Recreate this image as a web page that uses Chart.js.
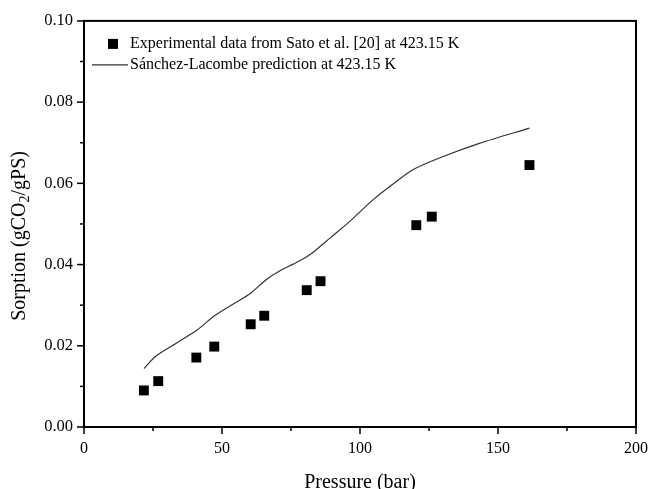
<!DOCTYPE html>
<html>
<head>
<meta charset="utf-8">
<script src="https://cdn.jsdelivr.net/npm/chart.js@4/dist/chart.umd.min.js"></script>
<style>
  html, body { margin: 0; padding: 0; background: #fff; }
  #wrap { width: 648px; height: 489px; }
</style>
</head>
<body>
<div id="wrap"><canvas id="chart" width="648" height="489"></canvas></div>
<script>
// experimental points (Sato et al.)
const expPressure = [21.7, 26.9, 40.7, 47.2, 60.4, 65.3, 80.7, 85.7, 120.4, 126.0, 161.4];
const expSorption = [0.0090, 0.0113, 0.0171, 0.0198, 0.0253, 0.0274, 0.0337, 0.0359, 0.0497, 0.0518, 0.0645];

// Sanchez-Lacombe curve
const slPressure = [21.7, 26.3, 33.6, 40.8, 47.5, 54.1, 60.1, 66.2, 71.0, 75.8, 80.7, 83.7, 89.1, 96.4, 104.8, 113.3, 119.3, 129.0, 143.5, 161.4];
const slSorption = [0.0144, 0.0176, 0.0207, 0.0238, 0.0275, 0.0303, 0.0328, 0.0364, 0.0385, 0.0401, 0.0419, 0.0434, 0.0465, 0.0507, 0.0560, 0.0605, 0.0634, 0.0663, 0.0699, 0.0736];

const xMajor = [0, 50, 100, 150, 200];
const yMajor = [0.00, 0.02, 0.04, 0.06, 0.08, 0.10];

const FONT = "'Liberation Serif', 'Times New Roman', serif";

function toPoints(xs, ys) {
  return xs.map((x, i) => ({ x: x, y: ys[i] }));
}

// outward ticks (major + minor) and the top/right frame
const frameTicks = {
  id: "frameTicks",
  afterDraw(chart) {
    const { ctx, chartArea: a, scales } = chart;
    ctx.save();
    ctx.strokeStyle = "#000";
    ctx.lineWidth = 2;
    ctx.strokeRect(a.left, a.top, a.right - a.left, a.bottom - a.top);
    ctx.lineWidth = 1.5;
    for (let v = 0; v <= 200; v += 25) {
      const px = scales.x.getPixelForValue(v);
      const len = v % 50 === 0 ? 7 : 4;
      ctx.beginPath();
      ctx.moveTo(px, a.bottom);
      ctx.lineTo(px, a.bottom + len);
      ctx.stroke();
    }
    for (let i = 0; i <= 10; i++) {
      const py = scales.y.getPixelForValue(i / 100);
      const len = i % 2 === 0 ? 7 : 4;
      ctx.beginPath();
      ctx.moveTo(a.left, py);
      ctx.lineTo(a.left - len, py);
      ctx.stroke();
    }
    ctx.restore();
  },
};

// y title with a real subscript 2, rotated
const yTitle = {
  id: "yTitle",
  afterDraw(chart) {
    const { ctx, chartArea: a } = chart;
    const big = "20px " + FONT;
    const small = "14px " + FONT;
    const parts = [["Sorption (gCO", big, 0], ["2", small, 5], ["/gPS)", big, 0]];
    ctx.save();
    let total = 0;
    parts.forEach(([t, f]) => { ctx.font = f; total += ctx.measureText(t).width; });
    ctx.translate(20, (a.top + a.bottom) / 2 + 12);
    ctx.rotate(-Math.PI / 2);
    ctx.fillStyle = "#000";
    ctx.textBaseline = "middle";
    let x = -total / 2;
    parts.forEach(([t, f, dy]) => {
      ctx.font = f;
      ctx.fillText(t, x, dy);
      x += ctx.measureText(t).width;
    });
    ctx.restore();
  },
};

// legend drawn inside the plot, top left
const innerLegend = {
  id: "innerLegend",
  afterDraw(chart) {
    const { ctx, chartArea: a } = chart;
    const sets = chart.data.datasets;
    ctx.save();
    ctx.font = "16px " + FONT;
    ctx.textBaseline = "middle";
    ctx.fillStyle = "#000";
    const textX = a.left + 46;
    let y = a.top + 23;
    ctx.fillRect(a.left + 24, y - 5, 10, 10);
    ctx.fillText(sets[0].label, textX, y);
    y += 21;
    ctx.strokeStyle = "#333";
    ctx.lineWidth = 1.2;
    ctx.beginPath();
    ctx.moveTo(a.left + 8, y);
    ctx.lineTo(a.left + 44, y);
    ctx.stroke();
    ctx.fillText(sets[1].label, textX, y);
    ctx.restore();
  },
};

new Chart(document.getElementById("chart").getContext("2d"), {
  type: "scatter",
  data: {
    datasets: [
      {
        label: "Experimental data from Sato et al. [20] at 423.15 K",
        data: toPoints(expPressure, expSorption),
        pointStyle: "rect",
        pointRadius: 7,
        pointBackgroundColor: "#000",
        pointBorderWidth: 0,
        showLine: false,
      },
      {
        label: "Sánchez-Lacombe prediction at 423.15 K",
        data: toPoints(slPressure, slSorption),
        showLine: true,
        borderColor: "#333",
        borderWidth: 1.2,
        pointRadius: 0,
        tension: 0.3,
      },
    ],
  },
  options: {
    responsive: false,
    animation: false,
    layout: { padding: { top: 19, right: 12, left: 0, bottom: 0 } },
    plugins: { legend: { display: false }, tooltip: { enabled: false } },
    scales: {
      x: {
        type: "linear",
        min: 0,
        max: 200,
        afterBuildTicks: (s) => { s.ticks = xMajor.map((v) => ({ value: v })); },
        afterFit: (s) => { s.height = 62; s.paddingRight = 0; s.paddingLeft = 0; },
        grid: { display: false, drawTicks: false },
        border: { display: false },
        ticks: { color: "#000", font: { family: FONT, size: 16 }, padding: 12, maxRotation: 0 },
        title: { display: true, text: "Pressure (bar)", color: "#000", font: { family: FONT, size: 20 }, padding: { top: 8, bottom: -6 } },
      },
      y: {
        type: "linear",
        min: 0,
        max: 0.1,
        afterBuildTicks: (s) => { s.ticks = yMajor.map((v) => ({ value: v })); },
        afterFit: (s) => { s.width = 84; },
        grid: { display: false, drawTicks: false },
        border: { display: false },
        ticks: { color: "#000", font: { family: FONT, size: 16.5 }, padding: 11, callback: (v) => v.toFixed(2) },
        title: { display: false },
      },
    },
  },
  plugins: [frameTicks, yTitle, innerLegend],
});
</script>
</body>
</html>
